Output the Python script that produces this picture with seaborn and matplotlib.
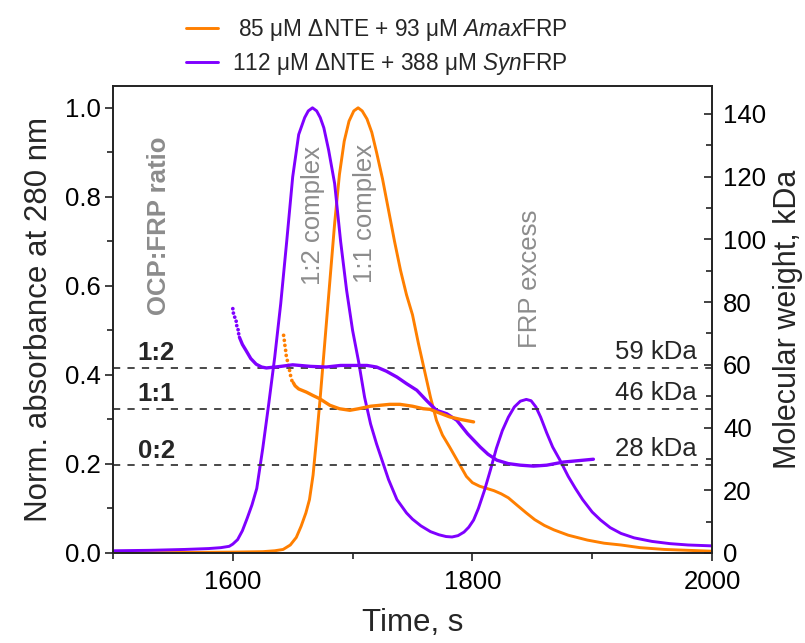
import numpy as np
import pandas as pd
import matplotlib
matplotlib.use("Agg")
import matplotlib.pyplot as plt
import seaborn as sns
from matplotlib.ticker import MultipleLocator, FixedLocator

# ---------------- data ----------------
# SynFRP sample: absorbance trace
syn_t = [1500, 1530, 1560, 1580, 1590, 1597, 1600, 1604, 1608, 1612, 1616, 1620, 1625,
         1630, 1635, 1640, 1645, 1650, 1655, 1660, 1663, 1666.5, 1670, 1673, 1676,
         1680, 1685, 1690, 1695, 1700, 1705, 1710, 1715, 1720, 1725, 1730, 1737,
         1745, 1750, 1757, 1765, 1772, 1778, 1783, 1788, 1793, 1797, 1801, 1805,
         1810, 1815, 1820, 1825, 1830, 1835, 1840, 1845, 1849, 1853, 1857, 1862,
         1867, 1873, 1880, 1886, 1892, 1900, 1907, 1915, 1924, 1935, 1950, 1965,
         1980, 2000]
syn_abs = [0.005, 0.006, 0.008, 0.010, 0.012, 0.015, 0.020, 0.030, 0.050, 0.078, 0.108, 0.145, 0.235,
           0.335, 0.440, 0.560, 0.700, 0.845, 0.940, 0.978, 0.993, 1.000, 0.993, 0.978, 0.955,
           0.905, 0.830, 0.700, 0.590, 0.500, 0.430, 0.350, 0.290, 0.245, 0.205, 0.165, 0.120,
           0.090, 0.076, 0.061, 0.048, 0.041, 0.037, 0.036, 0.039, 0.047, 0.058, 0.074, 0.100,
           0.140, 0.186, 0.235, 0.275, 0.305, 0.328, 0.341, 0.345, 0.342, 0.328, 0.305, 0.270,
           0.238, 0.209, 0.172, 0.145, 0.120, 0.092, 0.074, 0.057, 0.044, 0.034, 0.026, 0.021,
           0.018, 0.016]

# AmaxFRP sample: absorbance trace
amax_t = [1500, 1600, 1625, 1635, 1642, 1648, 1653, 1657, 1661, 1664, 1667, 1670, 1673,
          1677, 1681, 1685, 1689, 1693, 1697, 1701, 1704.6, 1708, 1712, 1716, 1720,
          1725, 1730, 1735, 1740, 1745, 1750, 1755, 1760, 1765, 1770, 1775, 1781,
          1788, 1795, 1800, 1806, 1812, 1818, 1824, 1830, 1837, 1845, 1852, 1860,
          1868, 1880, 1896, 1910, 1924, 1940, 1960, 1980, 2000]
amax_abs = [0.000, 0.002, 0.003, 0.005, 0.008, 0.018, 0.035, 0.060, 0.090, 0.120, 0.175, 0.260, 0.350,
            0.480, 0.610, 0.740, 0.850, 0.925, 0.970, 0.993, 1.000, 0.993, 0.975, 0.945, 0.900,
            0.840, 0.770, 0.700, 0.635, 0.580, 0.535, 0.470, 0.410, 0.350, 0.298, 0.265, 0.238,
            0.205, 0.172, 0.158, 0.150, 0.145, 0.140, 0.133, 0.124, 0.108, 0.090, 0.075, 0.062,
            0.052, 0.040, 0.029, 0.022, 0.018, 0.012, 0.008, 0.006, 0.004]

# Molecular weight (kDa) – sparse leading dots, then continuous
syn_mw_dot_t = [1600, 1600.5, 1601.6, 1602.8, 1603.3, 1604.4, 1604.9]
syn_mw_dot = [77.9, 76.5, 75.2, 73.9, 72.5, 71.2, 69.9]
syn_mw_t = [1605.5, 1608, 1611, 1615, 1619.5, 1624, 1628, 1640, 1650, 1665, 1678, 1690,
            1703, 1712, 1720, 1728, 1737, 1745, 1753.6, 1762, 1770, 1778.6, 1787, 1796,
            1806.5, 1813, 1820.4, 1830, 1840, 1851, 1862, 1876, 1890, 1901]
syn_mw = [68.8, 66.5, 64.6, 62.0, 60.2, 59.3, 59.0, 59.5, 60.0, 59.5, 59.3, 59.8,
          59.8, 59.8, 59.3, 58.0, 56.1, 54.0, 51.9, 48.5, 45.5, 44.4, 42.3, 38.0,
          33.8, 31.5, 29.6, 28.5, 28.0, 27.7, 28.0, 29.0, 29.5, 29.9]

amax_mw_dot_t = [1642.4, 1643, 1643.5, 1644.1, 1644.6, 1645.5, 1646.3, 1647.4, 1648.2, 1649.3]
amax_mw_dot = [69.4, 67.8, 66.2, 64.6, 63.0, 61.4, 59.8, 58.2, 56.6, 55.0]
amax_mw_t = [1650.5, 1652, 1655, 1661.4, 1667, 1672.5, 1681, 1689, 1697.7, 1705, 1715,
             1723, 1731, 1739.5, 1750, 1759, 1764.7, 1770, 1781, 1790, 1801]
amax_mw = [54.3, 53.3, 52.3, 51.3, 50.2, 49.2, 47.1, 46.0, 45.5, 46.0, 46.8,
           47.1, 47.4, 47.4, 46.8, 46.0, 45.8, 45.0, 43.4, 42.6, 41.8]

# reference lines
ratio_labels = ["1:2", "1:1", "0:2"]
ratio_mw = [59, 46, 28]
ratio_mw_labels = ["59 kDa", "46 kDa", "28 kDa"]

peak_labels = ["1:2 complex", "1:1 complex", "FRP excess"]

legend_labels = [" 85 μM ΔNTE + 93 μM $\\mathit{Amax}$FRP",
                 "112 μM ΔNTE + 388 μM $\\mathit{Syn}$FRP"]

x_major = [1600, 1800, 2000]
x_minor = [1500, 1700, 1900]

ORANGE = "#FF7F00"
PURPLE = "#7F00FF"
GRAY = "#8c8c8c"

# ---------------- style ----------------
sns.set_style("ticks")
plt.rcParams["font.family"] = ["Liberation Sans", "DejaVu Sans"]
plt.rcParams["mathtext.fontset"] = "custom"
plt.rcParams["mathtext.rm"] = "Liberation Sans"
plt.rcParams["mathtext.it"] = "Liberation Sans:italic"
plt.rcParams["axes.edgecolor"] = "#222222"
plt.rcParams["axes.linewidth"] = 1.2

fig = plt.figure(figsize=(8.05, 6.43), dpi=100)
ax = fig.add_axes([113 / 805, 1 - 553 / 643, (712 - 113) / 805, (553 - 86) / 643])
ax2 = ax.twinx()

df_amax = pd.DataFrame({"t": amax_t, "a": amax_abs})
df_syn = pd.DataFrame({"t": syn_t, "a": syn_abs})

sns.lineplot(data=df_amax, x="t", y="a", ax=ax, color=ORANGE, lw=2.1,
             sort=False, estimator=None, label=legend_labels[0])
sns.lineplot(data=df_syn, x="t", y="a", ax=ax, color=PURPLE, lw=2.1,
             sort=False, estimator=None, label=legend_labels[1])
handles, labels = ax.get_legend_handles_labels()
if ax.get_legend() is not None:
    ax.get_legend().remove()
for ln in ax.get_lines():
    ln.set_solid_joinstyle("round")
    ln.set_solid_capstyle("round")

# ratio lines
for v in ratio_mw:
    ax2.axhline(v, color="#3a3a3a", lw=1.3, ls=(0, (4, 4)), zorder=1)

# MW traces
sns.scatterplot(x=syn_mw_dot_t, y=syn_mw_dot, ax=ax2, color=PURPLE, s=7,
                edgecolor="none", legend=False)
sns.lineplot(x=syn_mw_t, y=syn_mw, ax=ax2, color=PURPLE, lw=2.4,
             sort=False, estimator=None, legend=False)
sns.scatterplot(x=amax_mw_dot_t, y=amax_mw_dot, ax=ax2, color=ORANGE, s=7,
                edgecolor="none", legend=False)
sns.lineplot(x=amax_mw_t, y=amax_mw, ax=ax2, color=ORANGE, lw=2.4,
             sort=False, estimator=None, legend=False)
for ln in ax2.get_lines():
    ln.set_solid_joinstyle("round")

# axes limits / ticks
ax.set_xlim(1500, 2000)
ax.set_ylim(0, 1.049)
ax2.set_ylim(0, 148.9)
ax.xaxis.set_major_locator(FixedLocator(x_major))
ax.xaxis.set_minor_locator(FixedLocator(x_minor))
ax.yaxis.set_major_locator(MultipleLocator(0.2))
ax.yaxis.set_minor_locator(MultipleLocator(0.1))
ax.yaxis.set_major_formatter(matplotlib.ticker.FormatStrFormatter("%.1f"))
ax2.yaxis.set_major_locator(MultipleLocator(20))
ax2.yaxis.set_minor_locator(MultipleLocator(10))

ax.tick_params(axis="both", which="major", direction="out", length=6, width=1.2,
               labelsize=18.5, colors="#222222", labelcolor="black", pad=6)
ax.tick_params(axis="both", which="minor", direction="out", length=4, width=1.2,
               colors="#222222")
ax.tick_params(axis="y", which="major", pad=3)
ax2.tick_params(axis="y", which="major", direction="in", length=6, width=1.2,
                labelsize=18.5, colors="#222222", labelcolor="black", pad=8)
ax2.tick_params(axis="y", which="minor", direction="in", length=4, width=1.2,
                colors="#222222")
for a in (ax, ax2):
    for s in a.spines.values():
        s.set_visible(True)
        s.set_color("#222222")
        s.set_linewidth(1.2)

ax.set_xlabel("Time, s", fontsize=22.5, labelpad=10)
ax.set_ylabel("Norm. absorbance at 280 nm", fontsize=22.5, labelpad=8)
ax2.set_ylabel("Molecular weight, kDa", fontsize=22, labelpad=5)

# annotations
ax.text(1538.5, 0.735, "OCP:FRP ratio", rotation=90, color=GRAY, fontweight="bold",
        fontsize=18.5, ha="center", va="center")
for lab, v in zip(ratio_labels, ratio_mw):
    ax2.text(1536, v + 2.4, lab, fontweight="bold", fontsize=18.5,
             ha="center", va="baseline")
for lab, v in zip(ratio_mw_labels, ratio_mw):
    ax2.text(1987, v + 2.8, lab, fontsize=18.5, ha="right", va="baseline")

peak_pos = [(1666.7, 0.758), (1710, 0.762), (1848, 0.615)]
for lab, (px, py) in zip(peak_labels, peak_pos):
    ax.text(px, py, lab, rotation=90, color=GRAY, fontsize=18.5,
            ha="center", va="center")

fig.legend(handles, labels, loc="upper center", bbox_to_anchor=(0.468, 1.005),
           frameon=False, fontsize=16.3, handlelength=1.4, handletextpad=0.6,
           labelspacing=0.35)

fig.savefig("out.png", dpi=100)
